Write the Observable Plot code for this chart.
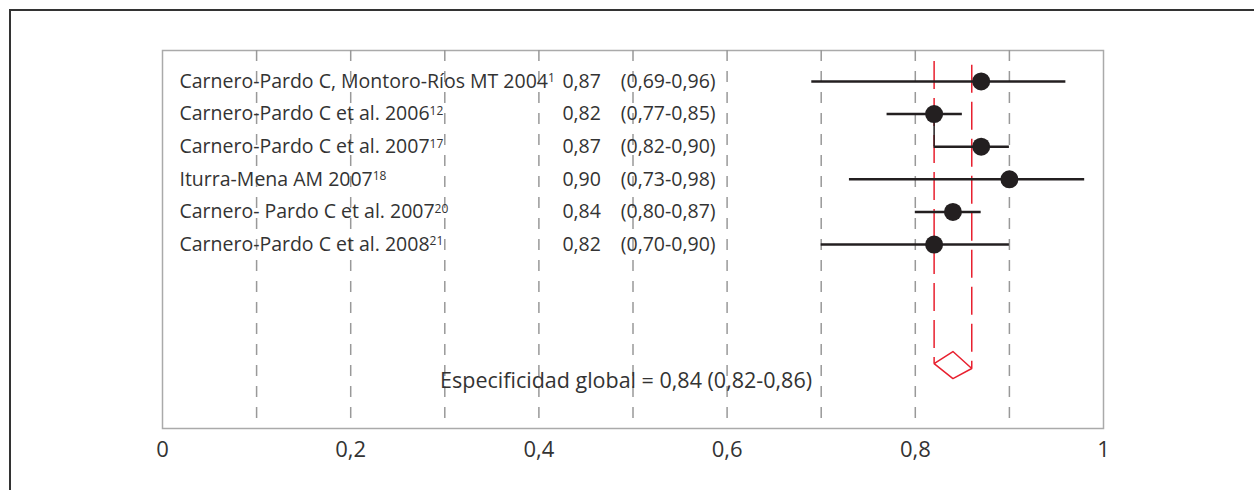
<!DOCTYPE html>
<html>
<head>
<meta charset="utf-8">
<script src="https://cdn.jsdelivr.net/npm/d3@7"></script>
<script src="https://cdn.jsdelivr.net/npm/@observablehq/plot@0.6"></script>
<style>
  html, body { margin: 0; padding: 0; background: #fff; }
  #wrap { position: relative; width: 1254px; height: 490px; overflow: hidden; }
  #outer { position: absolute; left: 9px; top: 9px; width: 1300px; height: 600px;
           border-top: 2px solid #333; border-left: 2px solid #333; }
  #chart { position: absolute; left: 0; top: 0; }
</style>
</head>
<body>
<div id="wrap"><div id="outer"></div><div id="chart"></div></div>
<script>
// ---- data ----
const studies = [
  "Carnero-Pardo C, Montoro-Ríos MT 2004",
  "Carnero-Pardo C et al. 2006",
  "Carnero-Pardo C et al. 2007",
  "Iturra-Mena AM 2007",
  "Carnero- Pardo C et al. 2007",
  "Carnero-Pardo C et al. 2008"
];
const refs = ["1", "12", "17", "18", "20", "21"];
const specificity = [0.87, 0.82, 0.87, 0.90, 0.84, 0.82];
const ciLow = [0.69, 0.77, 0.82, 0.73, 0.80, 0.70];
const ciHigh = [0.96, 0.85, 0.90, 0.98, 0.87, 0.90];
const pooled = 0.84, pooledLow = 0.82, pooledHigh = 0.86;
const pooledLabel = "Especificidad global = 0,84 (0,82-0,86)";
const xTicks = [0, 0.2, 0.4, 0.6, 0.8, 1];
const gridValues = [0.1, 0.2, 0.3, 0.4, 0.5, 0.6, 0.7, 0.8, 0.9];

const fmt = v => v.toFixed(2).replace(".", ",");
const rows = studies.map((s, i) => ({
  name: s, ref: refs[i], row: i + 1,
  est: specificity[i], lo: ciLow[i], hi: ciHigh[i],
  estLabel: fmt(specificity[i]),
  ciLabel: "(" + fmt(ciLow[i]) + "-" + fmt(ciHigh[i]) + ")"
}));

// layout positions (row units)
const dLeftRow = 9.65, dTopRow = 9.28, dRightRow = 9.80, dBottomRow = 10.11, textRow = 10.2;
const nameX = 0.018, estX = 0.425, ciX = 0.487, sumTextX = 0.295;
const diamond = [
  {x: pooledLow, y: dLeftRow}, {x: pooled, y: dTopRow},
  {x: pooledHigh, y: dRightRow}, {x: pooled, y: dBottomRow},
  {x: pooledLow, y: dLeftRow}
];

const FONT = "'Open Sans', 'Noto Sans', sans-serif";
const TXT = "#333";
const FS = 19.5, FS_SUM = 21.5, FS_TICK = 22;

const plot = Plot.plot({
  width: 1254,
  height: 490,
  marginLeft: 162,
  marginRight: 151,
  marginTop: 50,
  marginBottom: 62,
  style: {fontFamily: FONT, fontSize: FS + "px", color: TXT, background: "transparent"},
  x: {domain: [0, 1], label: null},
  y: {domain: [0.05, 11.64], reverse: true, axis: null},
  marks: [
    Plot.frame({stroke: "#aaa", strokeWidth: 1.5}),
    Plot.ruleX(gridValues, {stroke: "#999", strokeWidth: 1.5, strokeDasharray: "11,10"}),
    Plot.ruleX([pooledLow], {y1: 0.39, y2: dLeftRow, stroke: "#e8202f", strokeWidth: 1.5, strokeDasharray: "28,9"}),
    Plot.ruleX([pooledHigh], {y1: 0.5, y2: dRightRow, stroke: "#e8202f", strokeWidth: 1.5, strokeDasharray: "28,9"}),
    Plot.line(diamond, {x: "x", y: "y", stroke: "#e8202f", strokeWidth: 1.5}),
    Plot.ruleX([pooledLow], {y1: 2, y2: 3, stroke: "#231f20", strokeWidth: 1.5}),
    Plot.ruleY(rows, {y: "row", x1: "lo", x2: "hi", stroke: "#231f20", strokeWidth: 2.5}),
    Plot.dot(rows, {x: "est", y: "row", r: 9, fill: "#231f20", stroke: "none"}),
    Plot.text(rows, {x: () => nameX, y: "row", text: "name", textAnchor: "start", fill: TXT, fontSize: FS}),
    Plot.text(rows, {x: () => estX, y: "row", text: "estLabel", textAnchor: "start", fill: TXT, fontSize: FS}),
    Plot.text(rows, {x: () => ciX, y: "row", text: "ciLabel", textAnchor: "start", fill: TXT, fontSize: FS}),
    Plot.text([pooledLabel], {x: () => sumTextX, y: () => textRow, text: d => d, textAnchor: "start", fill: TXT, fontSize: FS_SUM}),
    Plot.axisX(xTicks, {tickSize: 0, tickPadding: 13, fontSize: FS_TICK, fill: TXT,
      tickFormat: d => d === 0 ? "0" : d === 1 ? "1" : String(d).replace(".", ","), label: null})
  ]
});

// add superscript references to study names
d3.select(plot).selectAll("text").each(function() {
  const idx = studies.indexOf(this.textContent);
  if (idx >= 0) {
    d3.select(this).append("tspan")
      .attr("dy", "-0.45em")
      .attr("font-size", "12px")
      .text(refs[idx]);
  }
});

document.getElementById("chart").appendChild(plot);
</script>
</body>
</html>
